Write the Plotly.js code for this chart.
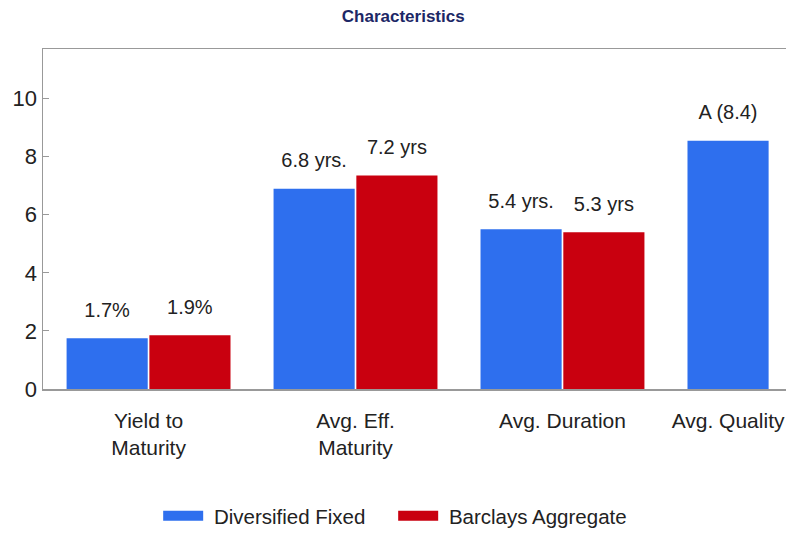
<!DOCTYPE html>
<html>
<head>
<meta charset="utf-8">
<script src="https://cdn.plot.ly/plotly-3.0.1.min.js"></script>
<style>html,body{margin:0;padding:0;background:#fff;}#chart{width:786px;height:536px;}</style>
</head>
<body>
<div id="chart"></div>
<script>
// ---- data ----
const categories = ["Yield to<br>Maturity", "Avg. Eff.<br>Maturity", "Avg. Duration", "Avg. Quality"];
const diversifiedFixed = [1.75, 6.9, 5.5, 8.55];
const barclaysAggregate = [1.85, 7.35, 5.4, null];
const diversifiedLabels = ["1.7%", "6.8 yrs.", "5.4 yrs.", "A (8.4)"];
const barclaysLabels = ["1.9%", "7.2 yrs", "5.3 yrs", ""];
const seriesNames = ["Diversified Fixed", "Barclays Aggregate"];
const yTicks = [0, 2, 4, 6, 8, 10];

// ---- styling ----
const FONT = "'Liberation Sans', Arial, sans-serif";
const BLUE = "#2E6FEE";
const RED = "#C9000F";
const idx = categories.map((c, i) => i);
// label in a larger span, followed by a small blank line to lift it off the bar
const fmt = t => t ? "<span style='font-size:20px'>" + t + "</span><br> " : "";
const NB = "\u00a0";

const traces = [
  {
    type: "bar", x: idx, y: diversifiedFixed, name: seriesNames[0],
    marker: {color: BLUE}, showlegend: false,
    text: diversifiedLabels.map(fmt), textposition: "outside", constraintext: "none",
    cliponaxis: false, textfont: {family: FONT, size: 12, color: "#222"}, hoverinfo: "skip"
  },
  {
    type: "bar", x: idx, y: barclaysAggregate, name: seriesNames[1],
    marker: {color: RED}, showlegend: false,
    text: barclaysLabels.map(fmt), textposition: "outside", constraintext: "none",
    cliponaxis: false, textfont: {family: FONT, size: 12, color: "#222"}, hoverinfo: "skip"
  },
  {type: "scatter", mode: "lines", x: [null], y: [null], name: NB + seriesNames[0] + NB + NB + NB + NB, line: {color: BLUE, width: 21}},
  {type: "scatter", mode: "lines", x: [null], y: [null], name: NB + seriesNames[1], line: {color: RED, width: 21}}
];

// tick label positions: last label pulled left so it stays inside the window
const tickPos = idx.map(i => (i === idx.length - 1 ? i - 0.2 : i));

const layout = {
  width: 786, height: 536,
  margin: {l: 43, r: 0, t: 49, b: 144},
  paper_bgcolor: "#fff", plot_bgcolor: "#fff",
  font: {family: FONT, size: 20, color: "#222"},
  title: {
    text: "<b>Characteristics</b>", xref: "container", x: 0.513, y: 0.97, yanchor: "middle",
    font: {family: FONT, size: 17, color: "#1C2766"}
  },
  barmode: "group", bargap: 0.2, bargroupgap: 0.02,
  xaxis: {
    range: [-0.51, 3.08], tickmode: "array", tickvals: tickPos, ticktext: categories,
    showline: true, linecolor: "#999", linewidth: 1.5, mirror: true,
    showgrid: false, zeroline: false, ticks: "", fixedrange: true,
    ticklabelstandoff: 12,
    tickfont: {family: FONT, size: 21, color: "#222"}
  },
  yaxis: {
    range: [0, 11.71], tickmode: "array", tickvals: yTicks,
    showline: true, linecolor: "#999", linewidth: 1.5,
    ticks: "inside", ticklen: 6, tickcolor: "#999",
    showgrid: false, zeroline: false, fixedrange: true,
    ticklabelstandoff: 0,
    tickfont: {family: FONT, size: 22, color: "#222"}
  },
  legend: {
    orientation: "h", x: 0.474, xanchor: "center", y: -0.375, yanchor: "middle",
    font: {family: FONT, size: 20.5, color: "#222"}, itemwidth: 40
  },
  showlegend: true
};

Plotly.newPlot("chart", traces, layout, {displayModeBar: false, staticPlot: true});
</script>
</body>
</html>
